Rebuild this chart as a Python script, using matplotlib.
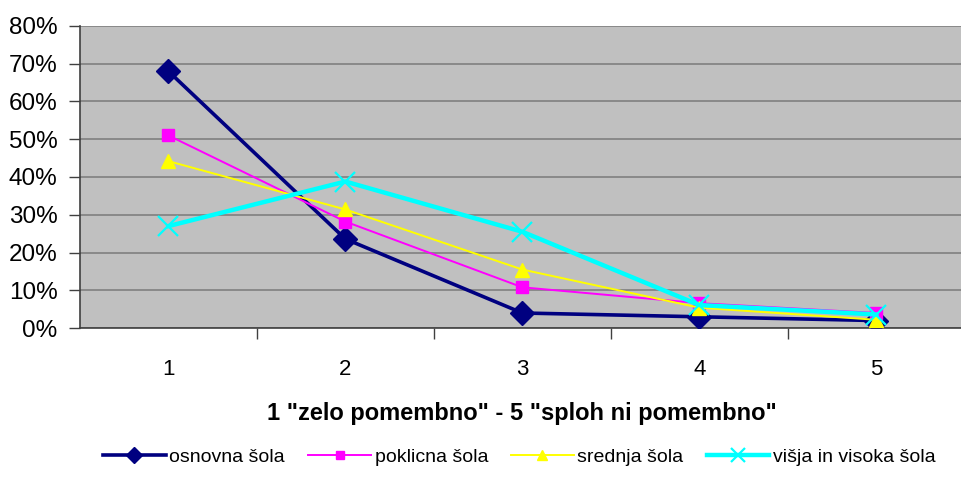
import matplotlib.pyplot as plt
from matplotlib.ticker import PercentFormatter

plt.rcParams['font.family'] = ['Liberation Sans', 'DejaVu Sans']

# ocena pomembnosti (1-5) po izobrazbi, delež odgovorov v %
ocene = [1, 2, 3, 4, 5]
osnovna = [68, 23.6, 4.0, 3.0, 2.0]
poklicna = [51, 28.2, 10.8, 6.6, 4.0]
srednja = [44.2, 31.4, 15.5, 5.4, 2.2]
visja = [27, 38.8, 25.5, 6.1, 3.6]

fig = plt.figure(figsize=(9.62, 4.79), dpi=100)
ax = fig.add_axes([0.083, 0.315, 0.92, 0.631])
ax.set_facecolor('#C0C0C0')

ax.plot(ocene, osnovna, color='#000080', lw=2.6, marker='D', ms=12, label='osnovna šola', zorder=3)
ax.plot(ocene, poklicna, color='#FF00FF', lw=1.4, marker='s', ms=8, label='poklicna šola', zorder=4)
ax.plot(ocene, srednja, color='#FFFF00', lw=1.4, marker='^', ms=10, label='srednja šola', zorder=5)
ax.plot(ocene, visja, color='#00FFFF', lw=3.2, marker='x', ms=15, mew=1.6, label='višja in visoka šola', zorder=6)

ax.set_xlim(0.5, 5.5)
ax.set_ylim(0, 80)
ax.yaxis.set_major_formatter(PercentFormatter(decimals=0))
ax.set_yticks(range(0, 81, 10))
ax.grid(axis='y', color='#808080', lw=1.2)
ax.set_axisbelow(True)

# oznake kategorij na sredini, kljukice na mejah
ax.set_xticks(ocene)
ax.set_xticks([1.5, 2.5, 3.5, 4.5], minor=True)
ax.tick_params(axis='x', which='major', length=0, pad=22, labelsize=16)
ax.tick_params(axis='x', which='minor', length=8, width=1, color='#404040', direction='out')
ax.tick_params(axis='y', length=8, width=1, color='#404040', labelsize=17.5, pad=8)

for s in ['top', 'right']:
    ax.spines[s].set_visible(False)
for s in ['left', 'bottom']:
    ax.spines[s].set_color('#404040')
    ax.spines[s].set_linewidth(1.2)

ax.set_xlabel('1 "zelo pomembno" - 5 "sploh ni pomembno"', fontsize=17, fontweight='bold', labelpad=16)

fig.legend(loc='lower center', bbox_to_anchor=(0.54, -0.01), ncol=4, frameon=False,
           fontsize=14, handlelength=3.2, handletextpad=0.2, columnspacing=1.2,
           markerscale=0.7)

fig.savefig('out.png', dpi=100)
